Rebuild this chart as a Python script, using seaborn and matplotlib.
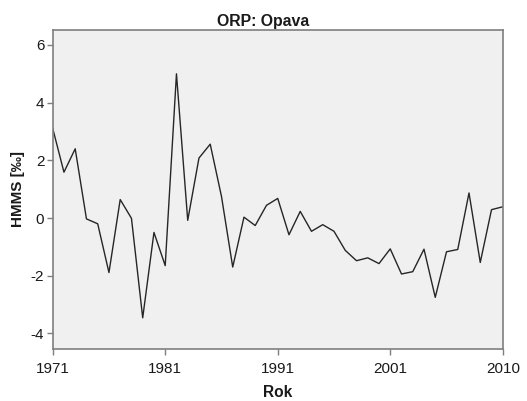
import matplotlib
matplotlib.use("Agg")
import matplotlib.pyplot as plt
import seaborn as sns
import pandas as pd

# x positions (41 time points), tick labels as on the reference axis
positions = list(range(41))
tick_positions = [0, 10, 20, 30, 40]
tick_labels = ["1971", "1981", "1991", "2001", "2010"]
hmms = [3.11, 1.59, 2.40, -0.03, -0.20, -1.89, 0.64, -0.01, -3.46, -0.50,
        -1.65, 5.00, -0.08, 2.08, 2.56, 0.75, -1.70, 0.03, -0.26, 0.44,
        0.68, -0.58, 0.23, -0.46, -0.23, -0.46, -1.12, -1.48, -1.38, -1.58,
        -1.07, -1.94, -1.86, -1.08, -2.75, -1.17, -1.09, 0.87, -1.54, 0.29,
        0.39]
y_ticks = [-4, -2, 0, 2, 4, 6]

df = pd.DataFrame({"pos": positions, "HMMS": hmms})

sns.set_theme(style="white")
plt.rcParams["font.family"] = ["Liberation Sans", "DejaVu Sans"]

fig = plt.figure(figsize=(5.27, 4.01), dpi=100)
ax = fig.add_axes([0.100, 0.129, 0.854, 0.797])
ax.set_facecolor("#f0f0f0")

sns.lineplot(data=df, x="pos", y="HMMS", ax=ax, color="#262626", linewidth=1.0)

ax.set_xlim(0, 40)
ax.set_ylim(-4.55, 6.53)
ax.set_xticks(tick_positions)
ax.set_xticklabels(tick_labels)
ax.set_yticks(y_ticks)
ax.set_yticklabels([str(v) for v in y_ticks])

for s in ax.spines.values():
    s.set_color("#7f7f7f")
    s.set_linewidth(1.2)
    s.set_visible(True)

ax.tick_params(axis="both", which="major", direction="out", length=4, width=1,
               color="#7f7f7f", labelsize=11, labelcolor="#1a1a1a",
               bottom=True, left=True)
ax.tick_params(axis="x", pad=5)
ax.tick_params(axis="y", pad=2)

fig.suptitle("ORP: Opava", x=0.5, y=0.965, fontsize=11.4, fontweight="bold",
             color="#1a1a1a")
ax.set_xlabel("Rok", fontsize=11.2, fontweight="bold", color="#1a1a1a", labelpad=7)
ax.set_ylabel("HMMS [‰]", fontsize=11, fontweight="bold", color="#1a1a1a", labelpad=4)

fig.savefig("out.png", dpi=100)
